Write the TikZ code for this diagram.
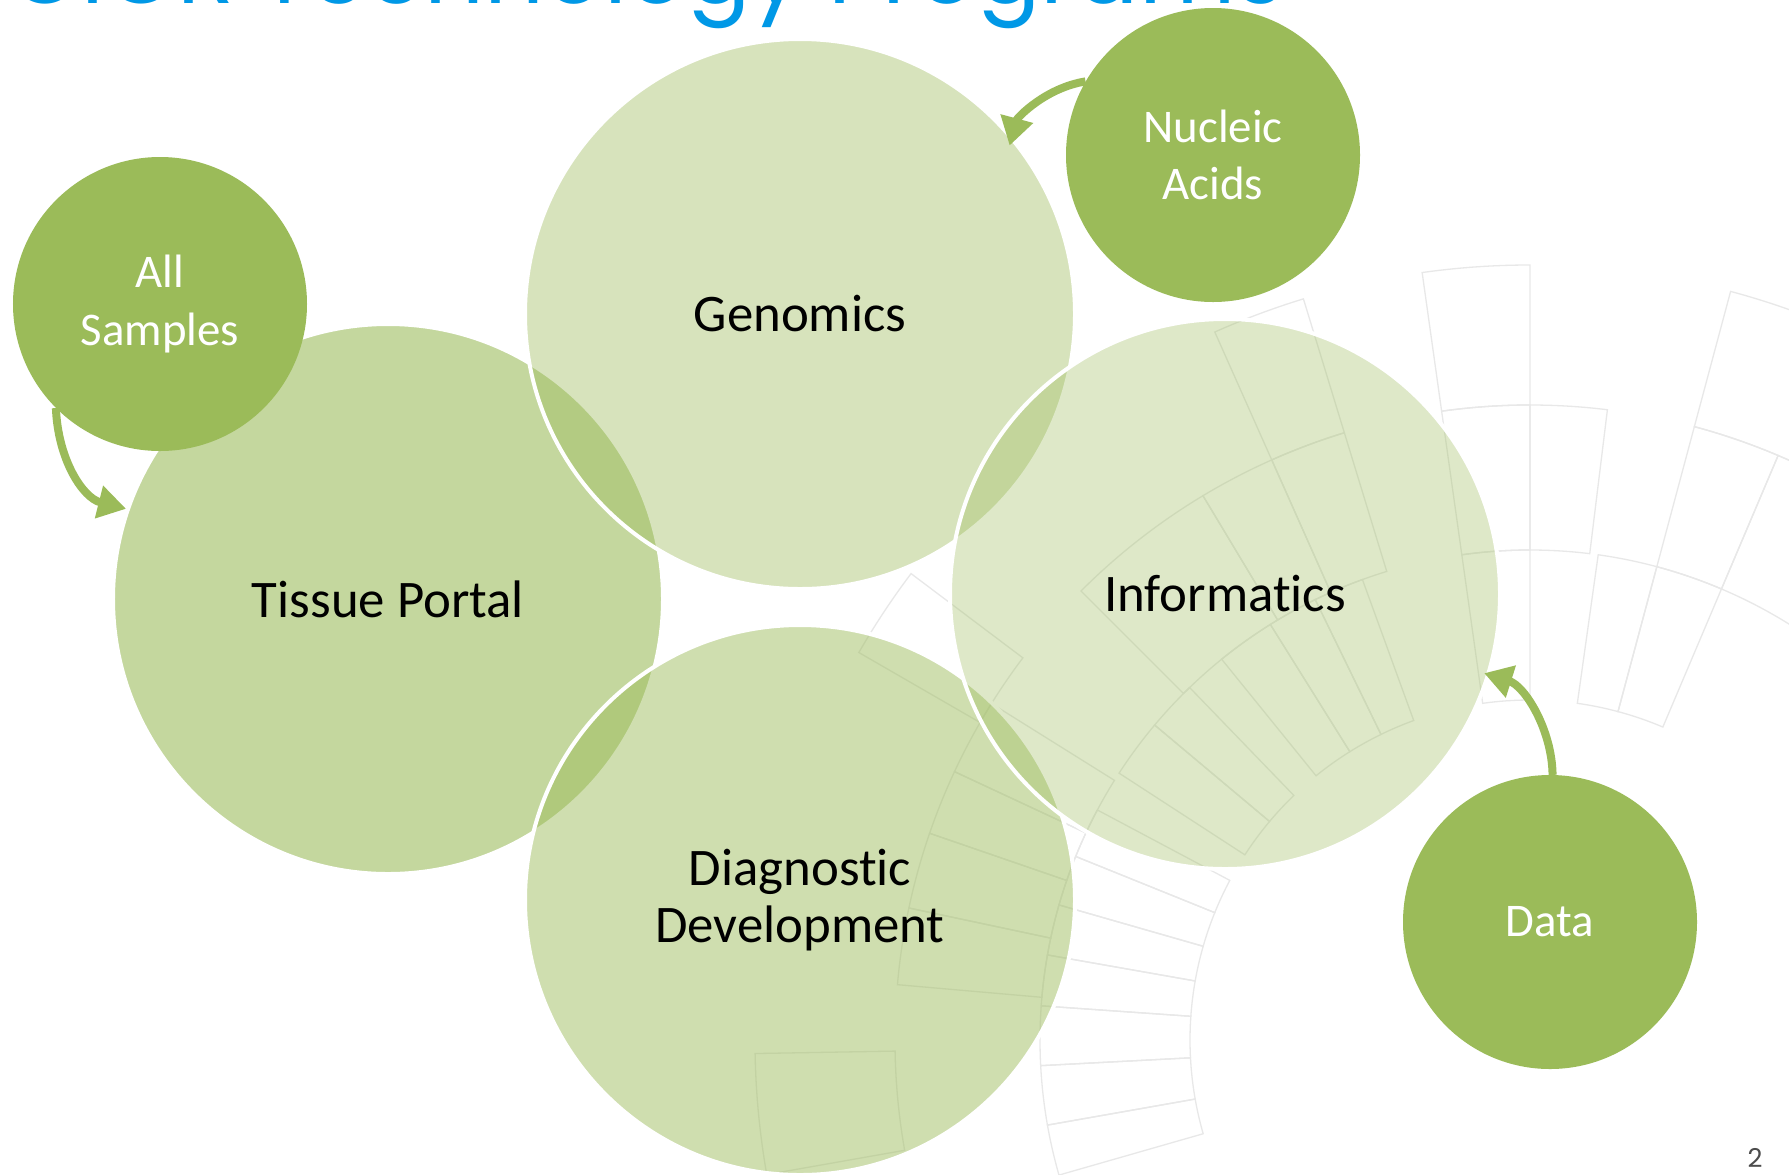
\documentclass[tikz,border=0pt]{standalone}
\usepackage{fontspec}
\setmainfont{Carlito}[Ligatures={NoCommon}]
\newfontfamily\titlefont{Poppins}
\usetikzlibrary{arrows.meta}
\definecolor{leaf}{HTML}{9BBB59}
\definecolor{titleblue}{HTML}{0098E6}
\newcommand\ptile[4]{%
  \draw[pat] ([shift={(#1:#3)}]C) arc[start angle=#1,end angle=#2,radius=#3]
    -- ([shift={(#2:#4)}]C) arc[start angle=#2,end angle=#1,radius=#4] -- cycle;}
\begin{document}
\begin{tikzpicture}[x=1bp,y=-1bp,
  bigc/.style={circle, draw=white, line width=4bp, fill=leaf, text opacity=1,
    minimum size=550bp, inner sep=0pt, font=\fontsize{53}{58}\selectfont,
    align=center, text=black},
  smallc/.style={circle, fill=leaf, minimum size=294bp, inner sep=0pt,
    font=\fontsize{47}{58}\selectfont, align=center, text=white},
  flow/.style={leaf, line width=8bp, -{Triangle[length=28bp,width=32bp]}},
  pat/.style={black!9, line width=1.3bp}]
\useasboundingbox (0,0) rectangle (1789,1174);
\fill[white] (0,0) rectangle (1789,1174);
% background radial tile pattern
\coordinate (C) at (1530,1040);
\foreach \a/\b in {-196/-190,-190/-183,-183/-176,-176/-170,-170/-164,-164/-158,
  -158/-152,-147/-140,-140/-134,-129/-122,-122/-116,-116/-110,-98/-90,-82/-75,-75/-67}
  {\ptile{\a}{\b}{340}{490}}
\foreach \a/\b in {-175/-168,-168/-161,-161/-155,-155/-148,-135/-121,-121/-114,
  -114/-107,-98/-90,-90/-83,-75/-67,-67/-57}
  {\ptile{\a}{\b}{490}{635}}
\foreach \a/\b in {-190/-181,-150/-143,-114/-107,-98/-90,-75/-62}
  {\ptile{\a}{\b}{635}{775}}
% big circles
\node[bigc, fill opacity=.58] (tissue) at (388,599) {Tissue Portal};
\node[bigc, fill opacity=.40] (genomics) at (800,314) {Genomics};
\node[bigc, fill opacity=.48] (diag) at (800,900) {Diagnostic\\Development};
\node[bigc, fill opacity=.33] (info) at (1225,594) {Informatics};
% small circles
\node[smallc] (all) at (160,304) {All\\Samples};
\node[smallc] (nucleic) at (1213,155) {Nucleic\\Acids};
\node[smallc] (data) at (1550,922) {Data};
% arrows
\draw[flow] (all.225) .. controls (58,460) and (83,498) .. (tissue.161);
\draw[flow, shorten >=-10bp] (nucleic.150) .. controls (1045,88) and (1017,118) .. (genomics.40);
\draw[flow, shorten >=-6bp] (data.89) .. controls (1552,730) and (1525,686) .. (info.343);
% title and page number
\node[anchor=base west, font=\titlefont\fontsize{94}{94}\selectfont, text=titleblue,
  inner sep=0pt] (title) at (8,3) {OICR Technology Programs};
\node[anchor=base, font=\titlefont\fontsize{26}{26}\selectfont, text=black!70,
  inner sep=0pt] (pnum) at (1755,1167) {2};
\end{tikzpicture}
\end{document}
